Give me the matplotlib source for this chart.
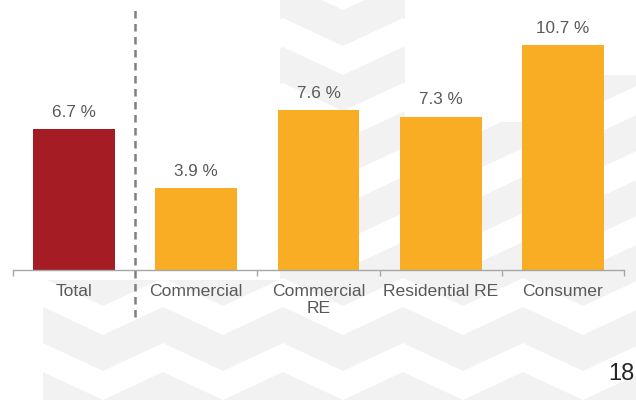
import matplotlib
matplotlib.use("Agg")
import matplotlib.pyplot as plt
from matplotlib.patches import Polygon

categories = ["Total", "Commercial", "Commercial\nRE", "Residential RE", "Consumer"]
growth = [6.7, 3.9, 7.6, 7.3, 10.7]
bar_colors = ["#a51c24", "#f9ad24", "#f9ad24", "#f9ad24", "#f9ad24"]
page_number = "18"

plt.rcParams["font.family"] = ["Liberation Sans", "DejaVu Sans"]
text_grey = "#595959"

fig = plt.figure(figsize=(6.36, 4.0), dpi=100)

# faint herringbone watermark, drawn in pixel coordinates
bg = fig.add_axes([0, 0, 1, 1], zorder=0)
bg.set_xlim(0, 636)
bg.set_ylim(400, 0)
bg.axis("off")
clip = Polygon([(280, 0), (405, 0), (405, 122), (595, 122), (600, 75), (636, 75),
                (636, 400), (43, 400), (43, 280), (280, 280)],
               transform=bg.transData, facecolor="none", edgecolor="none")
bg.add_patch(clip)
col_w, rise, band, period, offset = 60, 28, 36, 65, 47
for k in range(0, 11):
    x0 = 43 + col_w * k
    for j in range(-2, 7):
        y0 = offset + j * period
        if k % 2 == 0:
            pts = [(x0, y0), (x0 + col_w, y0 + rise),
                   (x0 + col_w, y0 + rise + band), (x0, y0 + band)]
        else:
            pts = [(x0, y0 + rise), (x0 + col_w, y0),
                   (x0 + col_w, y0 + band), (x0, y0 + rise + band)]
        p = Polygon(pts, facecolor="#f2f2f2", edgecolor="none")
        bg.add_patch(p)
        p.set_clip_path(clip)

ax = fig.add_axes([13 / 636, 130 / 400, 611 / 636, 252 / 400], zorder=1)
ax.patch.set_alpha(0)

x = range(len(categories))
bars = ax.bar(x, growth, width=0.67, color=bar_colors, zorder=2)
for rect, v in zip(bars, growth):
    ax.text(rect.get_x() + rect.get_width() / 2, v + 0.45, f"{v} %",
            ha="center", va="bottom", fontsize=12.3, color=text_grey)

ax.set_xlim(-0.5, len(categories) - 0.5)
ax.set_ylim(0, 12)
for side in ["top", "right", "left"]:
    ax.spines[side].set_visible(False)
ax.spines["bottom"].set_color("#a6a6a6")
ax.spines["bottom"].set_linewidth(1)
ax.set_yticks([])

ax.set_xticks(list(x))
ax.set_xticklabels(categories, fontsize=12.6, color=text_grey, linespacing=1.2)
ax.tick_params(axis="x", which="major", length=0, pad=10)
ax.set_xticks([-0.5, 1.5, 2.5, 3.5, 4.5], minor=True)
ax.tick_params(axis="x", which="minor", length=4, color="#a6a6a6", width=1)

# separator between the total and the segments
ax.axvline(0.5, ymin=-0.187, ymax=1.032, clip_on=False, color="#7f7f7f",
           linewidth=1.8, linestyle=(0, (3, 2.2)), zorder=3)

fig.text(635 / 636, 1 - 374 / 400, page_number, fontsize=17, color="#262626",
         ha="right", va="center")

fig.savefig("out.png", dpi=100)
